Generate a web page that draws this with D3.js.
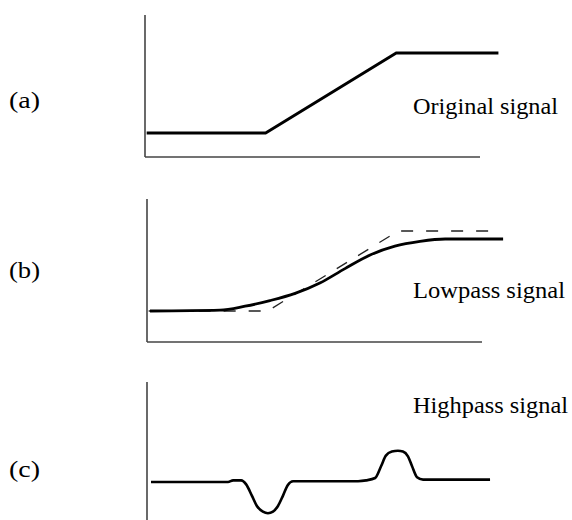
<!DOCTYPE html>
<html>
<head>
<meta charset="utf-8">
<script src="https://cdn.jsdelivr.net/npm/d3@7"></script>
<style>
  body { margin: 0; background: #fff; }
  svg { display: block; }
</style>
</head>
<body>
<svg id="mainsvg" width="572" height="520"></svg>
<script>
// panel tags and captions
const panelLabels = ['(a)', '(b)', '(c)']
const signalNames = ['Original signal', 'Lowpass signal', 'Highpass signal']

// time in axis units (axis runs 0..100), amplitude in signal units
const originalT = [0.5, 36, 75, 105.5]
const originalA = [0, 0, 1, 1]

const lowpassT = [0.9, 21.8, 29.3, 36.7, 44.2, 51.6, 59.1, 66.6, 74, 81.5, 89, 106.3]
const lowpassA = [0, 0.01, 0.06, 0.13, 0.22, 0.35, 0.53, 0.7, 0.81, 0.87, 0.9, 0.9]

const highpassT = [1.2, 24.2, 25.7, 28.1, 29.6, 31.3, 32.8, 34.6, 36.1, 37.6, 39.1, 40.6, 42.0, 43.6,
                   63.0, 65.4, 68.1, 69.9, 71.3, 73.1, 74.9, 76.4, 77.9, 79.1, 80.6, 82.4, 102.4]
const highpassA = [0, 0, 0.02, 0.02, -0.03, -0.17, -0.3, -0.37, -0.39, -0.37, -0.3, -0.17, -0.04, 0.01,
                   0.01, 0.02, 0.05, 0.2, 0.33, 0.38, 0.39, 0.38, 0.32, 0.2, 0.06, 0.03, 0.03]

const zip = (ts, as) => ts.map((t, i) => ({t: t, a: as[i]}))

const svg = d3.select('#mainsvg')
const axisColor = '#444'
const font = "'Liberation Serif', 'Times New Roman', serif"

// layout of each panel: axis origin, axis top, zero level of the signal
const panels = [
  {x0: 145, axisY: 157, top: 15, zeroY: 133, xAxis: true, labelY: 108, nameY: 114, nameW: 145},
  {x0: 147, axisY: 342, top: 199, zeroY: 311, xAxis: true, labelY: 278, nameY: 298, nameW: 152},
  {x0: 147, axisY: 522, top: 382, zeroY: 482, xAxis: false, labelY: 477, nameY: 413, nameW: 155}
]

function drawPanel(p, i) {
  const g = svg.append('g').attr('id', `panel${i}`)
  let x = d3.scaleLinear().domain([0, 100]).range([p.x0, p.x0 + 335])
  let y = d3.scaleLinear().domain([0, 1]).range([p.zeroY, p.zeroY - 80])
  let line = d3.line().x(d => x(d.t)).y(d => y(d.a))
  let smooth = d3.line().x(d => x(d.t)).y(d => y(d.a)).curve(d3.curveMonotoneX)

  // axes
  g.append('line')
    .attr('x1', p.x0).attr('x2', p.x0)
    .attr('y1', p.top).attr('y2', p.axisY)
    .attr('stroke', axisColor).attr('stroke-width', 1.6)
  if (p.xAxis) {
    g.append('line')
      .attr('x1', p.x0).attr('x2', x(100))
      .attr('y1', p.axisY).attr('y2', p.axisY)
      .attr('stroke', axisColor).attr('stroke-width', 1.6)
  }

  if (i === 0) {
    g.append('path').attr('d', line(zip(originalT, originalA)))
      .attr('fill', 'none').attr('stroke', '#000').attr('stroke-width', 2.8)
  } else if (i === 1) {
    g.append('path').attr('d', line(zip(originalT, originalA)))
      .attr('fill', 'none').attr('stroke', '#222').attr('stroke-width', 1.3)
      .attr('stroke-dasharray', '12,13')
    g.append('path').attr('d', smooth(zip(lowpassT, lowpassA)))
      .attr('fill', 'none').attr('stroke', '#000').attr('stroke-width', 2.8)
  } else {
    g.append('path').attr('d', smooth(zip(highpassT, highpassA)))
      .attr('fill', 'none').attr('stroke', '#000').attr('stroke-width', 2.6)
  }

  g.append('text')
    .attr('x', 9).attr('y', p.labelY)
    .style('font-family', font).style('font-size', '24px')
    .attr('textLength', 31).attr('lengthAdjust', 'spacingAndGlyphs')
    .attr('fill', '#000')
    .text(panelLabels[i])
  g.append('text')
    .attr('x', 413).attr('y', p.nameY)
    .style('font-family', font).style('font-size', '23px')
    .attr('textLength', p.nameW).attr('lengthAdjust', 'spacingAndGlyphs')
    .attr('fill', '#000')
    .text(signalNames[i])
}

panels.forEach(drawPanel)
</script>
</body>
</html>
